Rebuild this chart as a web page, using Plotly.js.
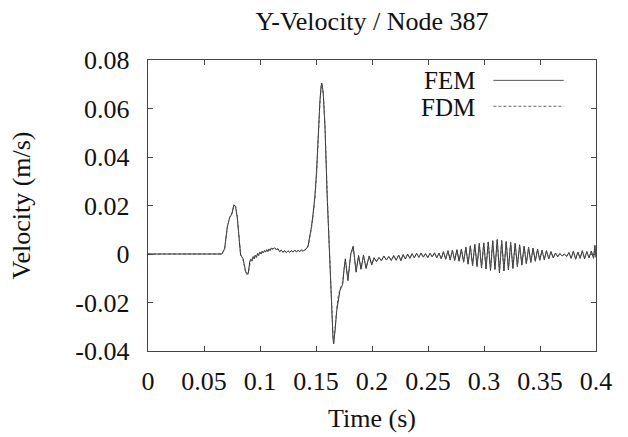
<!DOCTYPE html>
<html>
<head>
<meta charset="utf-8">
<script src="https://cdn.plot.ly/plotly-3.0.1.min.js"></script>
<style>html,body{margin:0;padding:0;background:#fff;}#chart{width:628px;height:437px;}</style>
</head>
<body>
<div id="chart"></div>
<script>
// ---- data ----
const seriesNames = ["FEM", "FDM"];

const timeOnset = [0, 0.066, 0.0684, 0.0708, 0.0729, 0.0749, 0.0767, 0.0782, 0.0797, 0.0818, 0.0827, 0.0848, 0.0863, 0.0875, 0.0895, 0.0908, 0.0918, 0.0928, 0.0938, 0.0948, 0.0958, 0.0968, 0.0978, 0.0988, 0.0998];
const femOnset = [0, 0, 0.0022, 0.0112, 0.0150, 0.0165, 0.0203, 0.0195, 0.0150, 0.0057, -0.0005, -0.0019, -0.0047, -0.0078, -0.0080, -0.0033, -0.0022, -0.0028, -0.0012, -0.0020, -0.0005, -0.0013, 0.0002, -0.0006, 0.0008];
const fdmOnset = [0, 0, 0.0020, 0.0108, 0.0152, 0.0168, 0.0200, 0.0197, 0.0155, 0.0060, -0.0002, -0.0022, -0.0050, -0.0082, -0.0083, -0.0036, -0.0020, -0.0030, -0.0010, -0.0022, -0.0004, -0.0015, 0.0003, -0.0007, 0.0007];

const timeMain = [0.101, 0.102, 0.103, 0.104, 0.105, 0.106, 0.107, 0.108, 0.109, 0.110,
  0.1117, 0.113, 0.1145, 0.116, 0.1175, 0.119, 0.1205, 0.122, 0.1235, 0.125, 0.1265, 0.128, 0.1295, 0.131, 0.1325, 0.134, 0.1355, 0.137, 0.1385, 0.14,
  0.1415, 0.143, 0.1445, 0.146, 0.1475, 0.149, 0.1505, 0.152, 0.1535, 0.1545, 0.155, 0.1555, 0.1565, 0.158, 0.160, 0.162, 0.164, 0.1652, 0.1658, 0.1665,
  0.167, 0.1685, 0.170, 0.1714, 0.1726, 0.1738, 0.1748, 0.1762, 0.1785, 0.1810, 0.1832, 0.1858, 0.1880, 0.1902, 0.1924, 0.1947, 0.1975, 0.1998];
const femMain = [0.0000, 0.0012, 0.0004, 0.0015, 0.0008, 0.0018, 0.0010, 0.0021, 0.0014, 0.0024,
  0.0020, 0.0026, 0.0018, 0.0022, 0.0010, 0.0016, 0.0007, 0.0014, 0.0006, 0.0013, 0.0007, 0.0014, 0.0008, 0.0016, 0.0009, 0.0015, 0.0010, 0.0017, 0.0011, 0.0018,
  0.0022, 0.0035, 0.0070, 0.0114, 0.0170, 0.0236, 0.0340, 0.0500, 0.0630, 0.0690, 0.0705, 0.0700, 0.0660, 0.0526, 0.0236, -0.0010, -0.0250, -0.0350, -0.0370, -0.0345,
  -0.0316, -0.0233, -0.0178, -0.0150, -0.0138, -0.0125, -0.0075, -0.0020, -0.0110, 0.0000, 0.0032, -0.0075, -0.0006, -0.0063, -0.0004, -0.0060, -0.0008, -0.0045];
const fdmMain = [0.0002, 0.0010, 0.0005, 0.0013, 0.0009, 0.0016, 0.0011, 0.0019, 0.0015, 0.0022,
  0.0021, 0.0024, 0.0019, 0.0020, 0.0011, 0.0015, 0.0008, 0.0013, 0.0007, 0.0012, 0.0008, 0.0013, 0.0009, 0.0015, 0.0010, 0.0014, 0.0011, 0.0016, 0.0012, 0.0017,
  0.0020, 0.0032, 0.0066, 0.0108, 0.0164, 0.0228, 0.0325, 0.0490, 0.0620, 0.0682, 0.0698, 0.0696, 0.0662, 0.0535, 0.0250, 0.0005, -0.0238, -0.0340, -0.0362, -0.0340,
  -0.0308, -0.0226, -0.0170, -0.0145, -0.0132, -0.0118, -0.0070, -0.0026, -0.0104, -0.0004, 0.0028, -0.0070, -0.0009, -0.0060, -0.0006, -0.0056, -0.0010, -0.0042];

const timeTail = [0.2018, 0.2040, 0.2062, 0.2084, 0.2106, 0.2128, 0.2150, 0.2172, 0.2194, 0.2216, 0.2238,
  0.2258, 0.2278, 0.2298, 0.2318, 0.2338, 0.2358, 0.2378, 0.2398, 0.2418, 0.2438,
  0.2458, 0.2478, 0.2498, 0.2518, 0.2538, 0.2558, 0.2578, 0.2598, 0.2618, 0.2638,
  0.2658, 0.2678, 0.2698, 0.2718, 0.2738, 0.2758, 0.2778, 0.2798, 0.2818, 0.2838,
  0.2858, 0.2878, 0.2898, 0.2918, 0.2938, 0.2958, 0.2978, 0.2998, 0.3018, 0.3038,
  0.3058, 0.3078, 0.3098, 0.3118, 0.3138, 0.3158, 0.3178, 0.3198, 0.3218, 0.3238,
  0.3258, 0.3278, 0.3298, 0.3318, 0.3338, 0.3358, 0.3378, 0.3398, 0.3418, 0.3438,
  0.3458, 0.3478, 0.3498, 0.3518, 0.3538, 0.3558, 0.3578, 0.3598, 0.3618, 0.3638,
  0.3658, 0.3678, 0.3698, 0.3718, 0.3738, 0.3758, 0.3778, 0.3798, 0.3818, 0.3838,
  0.3858, 0.3878, 0.3898, 0.3918, 0.3938, 0.3958, 0.3978, 0.3990, 0.4000];
const femTail = [-0.0015, -0.0032, -0.0014, -0.0028, -0.0008, -0.0025, -0.0010, -0.0027, -0.0006, -0.0026, -0.0004,
  -0.0028, -0.0002, -0.0021, 0.0000, -0.0018, 0.0002, -0.0016, 0.0003, -0.0014, 0.0004,
  -0.0013, 0.0002, -0.0015, 0.0003, -0.0012, 0.0005, -0.0016, 0.0004, -0.0020, 0.0010,
  -0.0022, 0.0014, -0.0025, 0.0016, -0.0027, 0.0018, -0.0030, 0.0020, -0.0034, 0.0028,
  -0.0042, 0.0034, -0.0048, 0.0040, -0.0052, 0.0044, -0.0058, 0.0046, -0.0062, 0.0050,
  -0.0068, 0.0055, -0.0064, 0.0060, -0.0078, 0.0056, -0.0070, 0.0052, -0.0066, 0.0048,
  -0.0060, 0.0044, -0.0052, 0.0038, -0.0046, 0.0032, -0.0040, 0.0028, -0.0035, 0.0024,
  -0.0030, 0.0020, -0.0026, 0.0016, -0.0024, 0.0014, -0.0020, 0.0010, -0.0016, 0.0004,
  -0.0012, 0.0002, -0.0008, 0.0000, -0.0010, 0.0006, -0.0018, 0.0012, -0.0022, 0.0008,
  -0.0018, 0.0014, -0.0020, 0.0010, -0.0016, 0.0012, -0.0018, 0.0036, -0.0015];
const fdmTail = [-0.0017, -0.0030, -0.0016, -0.0027, -0.0010, -0.0024, -0.0011, -0.0026, -0.0008, -0.0024, -0.0006,
  -0.0026, -0.0004, -0.0020, -0.0002, -0.0017, 0.0000, -0.0015, 0.0002, -0.0013, 0.0003,
  -0.0012, 0.0001, -0.0014, 0.0002, -0.0011, 0.0004, -0.0015, 0.0003, -0.0018, 0.0008,
  -0.0020, 0.0012, -0.0023, 0.0014, -0.0025, 0.0016, -0.0028, 0.0019, -0.0032, 0.0026,
  -0.0039, 0.0031, -0.0045, 0.0037, -0.0049, 0.0041, -0.0054, 0.0043, -0.0058, 0.0047,
  -0.0063, 0.0051, -0.0060, 0.0056, -0.0072, 0.0053, -0.0066, 0.0049, -0.0062, 0.0045,
  -0.0056, 0.0041, -0.0049, 0.0036, -0.0043, 0.0030, -0.0038, 0.0026, -0.0033, 0.0022,
  -0.0028, 0.0018, -0.0024, 0.0015, -0.0022, 0.0013, -0.0018, 0.0009, -0.0015, 0.0004,
  -0.0011, 0.0001, -0.0008, -0.0001, -0.0009, 0.0005, -0.0016, 0.0011, -0.0020, 0.0007,
  -0.0017, 0.0013, -0.0018, 0.0009, -0.0015, 0.0011, -0.0016, 0.0030, -0.0012];

const xTickVals = [0, 0.05, 0.1, 0.15, 0.2, 0.25, 0.3, 0.35, 0.4];
const xTickText = ["0", "0.05", "0.1", "0.15", "0.2", "0.25", "0.3", "0.35", "0.4"];
const yTickVals = [-0.04, -0.02, 0, 0.02, 0.04, 0.06, 0.08];
const yTickText = ["-0.04", "-0.02", "0", "0.02", "0.04", "0.06", "0.08"];

// ---- build ----
const time = timeOnset.concat(timeMain, timeTail);
const fem = femOnset.concat(femMain, femTail);
const fdm = fdmOnset.concat(fdmMain, fdmTail);

const FONT = "Liberation Serif, Times New Roman, serif";
const FS = 26;
const LFS = 25;
const traces = [
  {x: time, y: fem, type: "scatter", mode: "lines", name: seriesNames[0],
   line: {color: "#2a2a2a", width: 1}, showlegend: false},
  {x: time, y: fdm, type: "scatter", mode: "lines", name: seriesNames[1],
   line: {color: "#555555", width: 1, dash: "3px,2px"}, showlegend: false}
];

const axisCommon = {
  showline: true, mirror: "ticks", ticks: "inside", ticklen: 5, tickwidth: 1,
  tickcolor: "#444", linecolor: "#444", linewidth: 1.3,
  showgrid: false, zeroline: false, automargin: false,
  tickfont: {family: FONT, size: FS, color: "#111"}
};

const layout = {
  width: 628, height: 437,
  margin: {l: 148, r: 32, t: 60, b: 86},
  paper_bgcolor: "#fff", plot_bgcolor: "#fff",
  font: {family: FONT, size: FS, color: "#111"},
  title: {text: "Y-Velocity / Node 387", font: {family: FONT, size: FS, color: "#111"},
          x: 0.5, xref: "paper", xanchor: "center", y: 0.952, yref: "container", yanchor: "middle"},
  xaxis: Object.assign({}, axisCommon, {
    range: [0, 0.4], tickmode: "array", tickvals: xTickVals, ticktext: xTickText,
    ticklabelstandoff: 6,
    title: {text: "Time (s)", font: {family: FONT, size: FS, color: "#111"}, standoff: 14}
  }),
  yaxis: Object.assign({}, axisCommon, {
    range: [-0.04, 0.08], tickmode: "array", tickvals: yTickVals, ticktext: yTickText,
    ticklabelstandoff: 12,
    title: {text: "Velocity (m/s)", font: {family: FONT, size: FS, color: "#111"}, standoff: 37}
  }),
  annotations: [
    {text: seriesNames[0], xref: "paper", yref: "paper", x: 0.732, y: 0.932, xanchor: "right", yanchor: "middle",
     height: 24, borderpad: 0, showarrow: false, font: {family: FONT, size: LFS, color: "#111"}},
    {text: seriesNames[1], xref: "paper", yref: "paper", x: 0.732, y: 0.840, xanchor: "right", yanchor: "middle",
     height: 24, borderpad: 0, showarrow: false, font: {family: FONT, size: LFS, color: "#111"}}
  ],
  shapes: [
    {type: "line", xref: "paper", yref: "paper", x0: 0.771, x1: 0.928, y0: 0.93, y1: 0.93,
     line: {color: "#555", width: 1}},
    {type: "line", xref: "paper", yref: "paper", x0: 0.771, x1: 0.928, y0: 0.841, y1: 0.841,
     line: {color: "#666", width: 1, dash: "3px,2px"}}
  ]
};

Plotly.newPlot("chart", traces, layout, {displayModeBar: false, staticPlot: true});
</script>
</body>
</html>
